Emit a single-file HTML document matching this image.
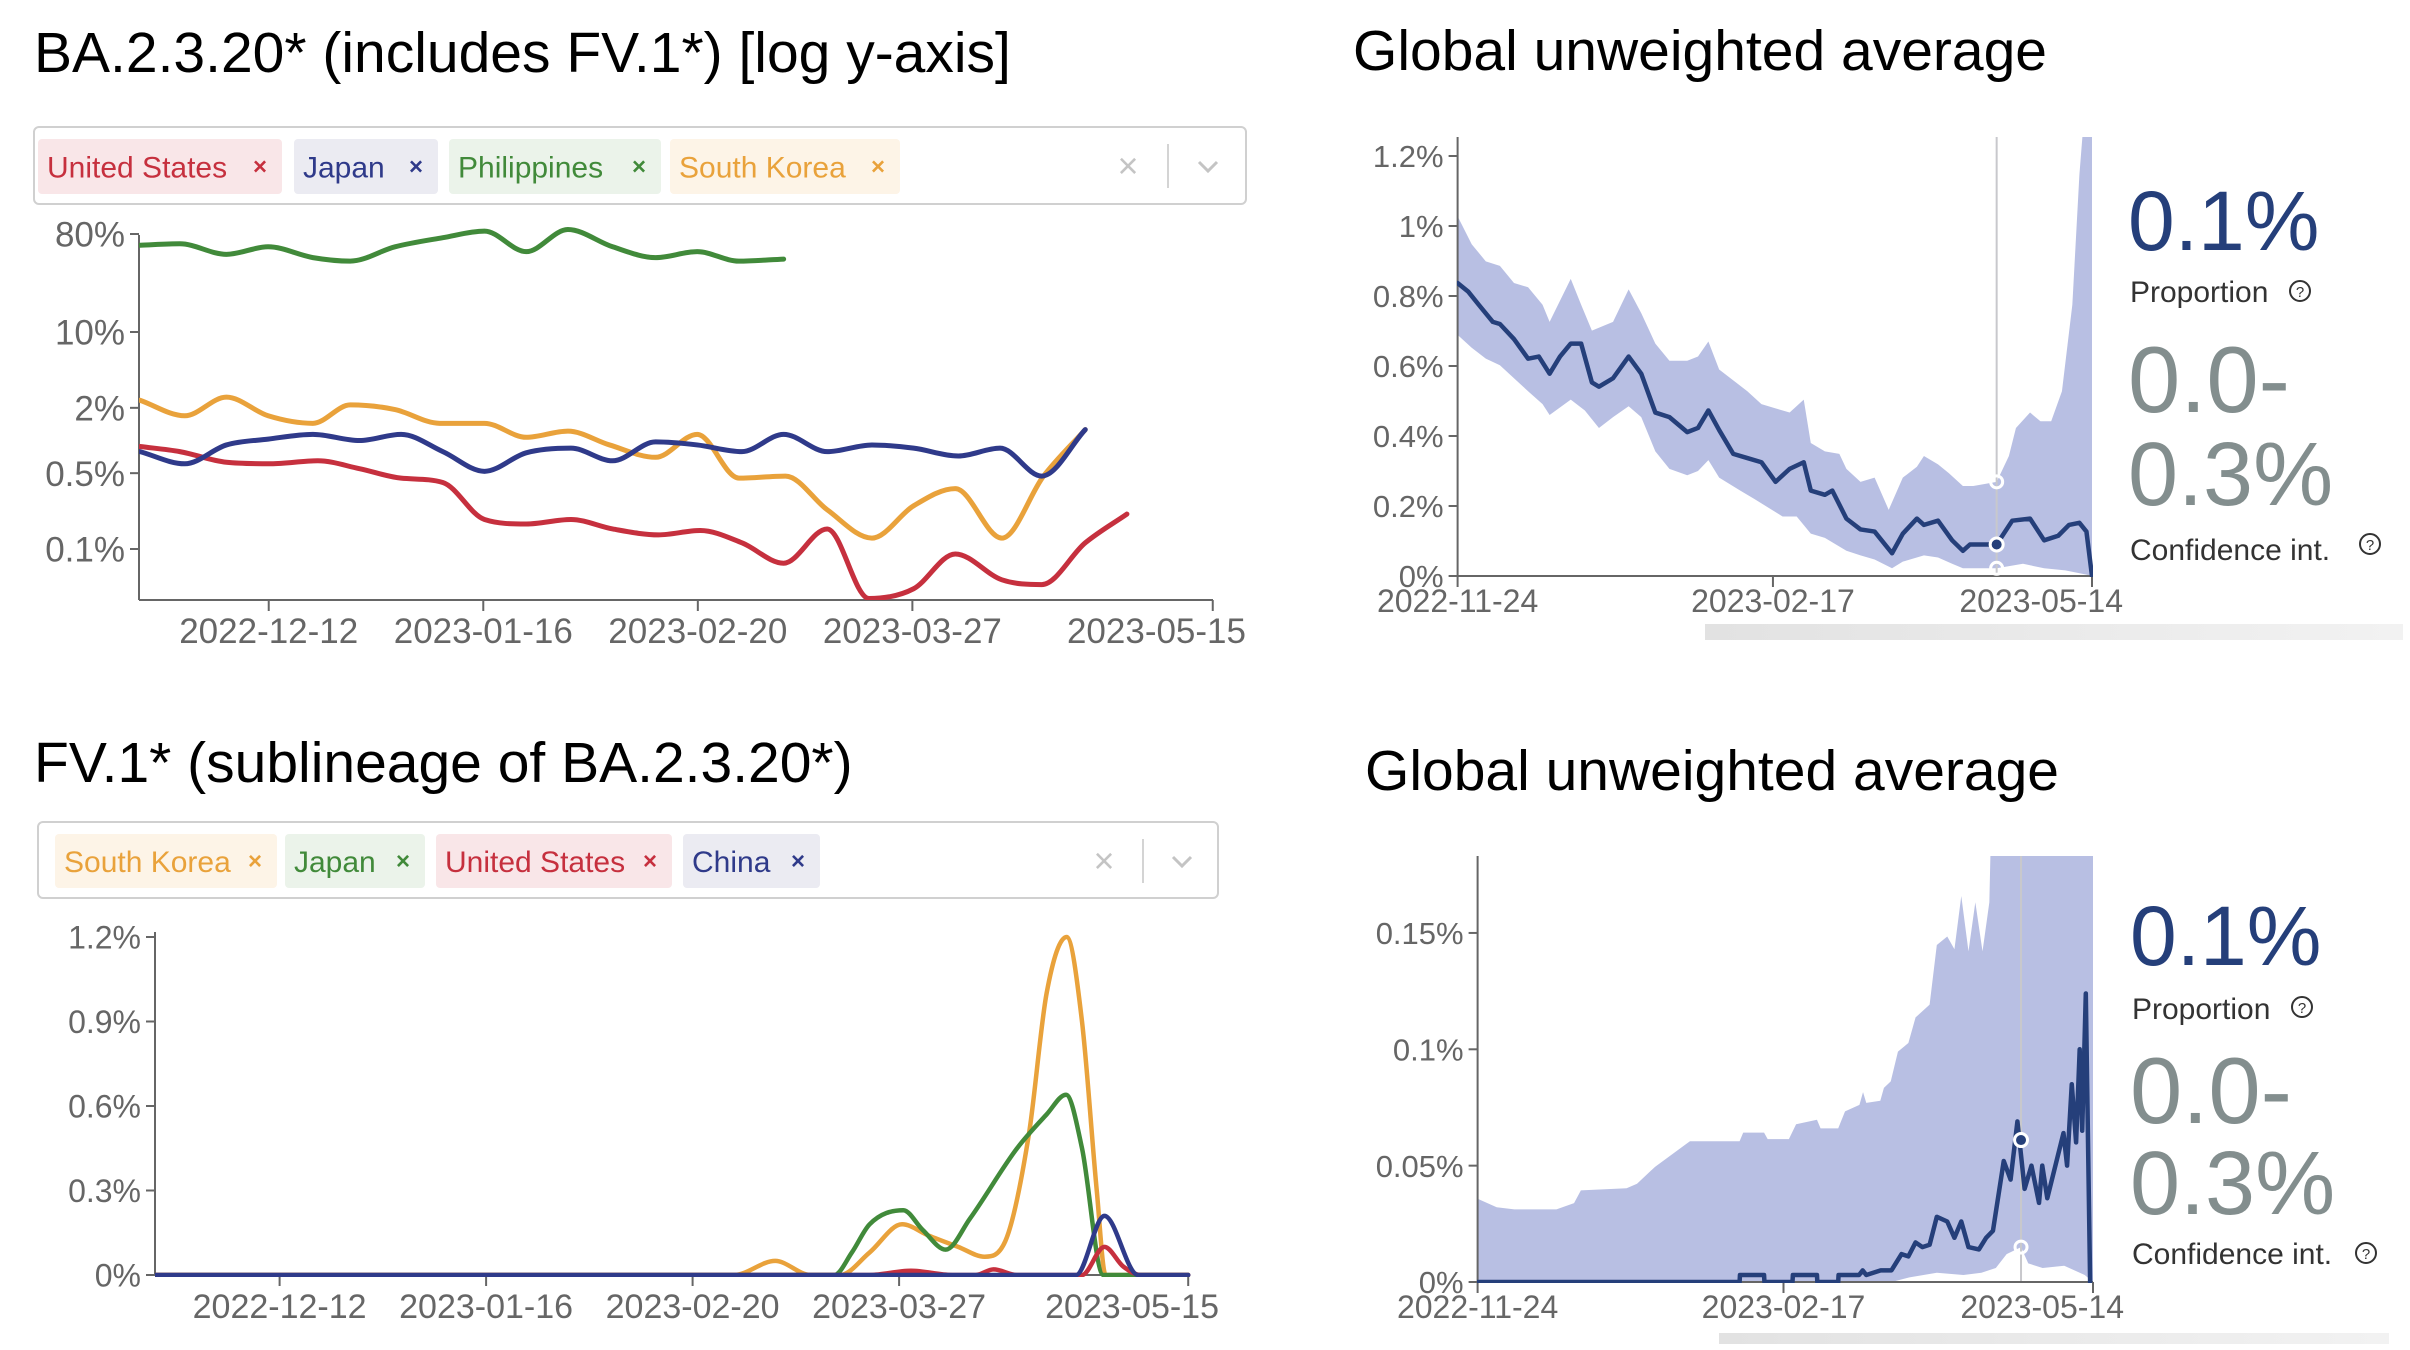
<!DOCTYPE html>
<html><head><meta charset="utf-8"><style>
html,body{margin:0;padding:0;background:#fff;}
svg{display:block;font-family:"Liberation Sans",Arial,sans-serif;}
</style></head><body>
<svg id="root" width="2410" height="1350" viewBox="0 0 2410 1350" xmlns="http://www.w3.org/2000/svg">
<defs>
<clipPath id="c1"><rect x="139" y="225" width="1090" height="375"/></clipPath>
<clipPath id="c2"><rect x="155" y="915" width="1045" height="362"/></clipPath>
<clipPath id="c3"><rect x="1457" y="137" width="636" height="440"/></clipPath>
<clipPath id="c4"><rect x="1477" y="856" width="617" height="427"/></clipPath>
<linearGradient id="sb" x1="0" x2="1"><stop offset="0" stop-color="#e2e2e2"/><stop offset="1" stop-color="#f2f2f2"/></linearGradient>
</defs>

<text x="34" y="72" font-size="57" fill="#000">BA.2.3.20* (includes FV.1*) [log y-axis]</text>
<text x="34" y="782" font-size="57" fill="#000">FV.1* (sublineage of BA.2.3.20*)</text>
<text x="1353" y="70" font-size="57" fill="#000">Global unweighted average</text>
<text x="1365" y="790" font-size="57" fill="#000">Global unweighted average</text>

<rect x="34" y="127" width="1212" height="77" rx="5" fill="#fff" stroke="#d0d0d0" stroke-width="2"/>
<rect x="38" y="822" width="1180" height="76" rx="5" fill="#fff" stroke="#d0d0d0" stroke-width="2"/>

<g id="tags"></g>
<g id="g1"></g><g id="g2"></g><g id="g3"></g><g id="g4"></g>

<rect x="1705" y="624" width="698" height="16" fill="url(#sb)"/>
<rect x="1719" y="1333" width="670" height="11" fill="url(#sb)"/>

<text x="2128" y="250" font-size="84" fill="#253f7a">0.1%</text>
<text x="2130" y="302" font-size="30" fill="#333">Proportion</text>
<g><circle cx="2300" cy="291" r="10" fill="none" stroke="#333" stroke-width="2"/><text x="2300" y="297" font-size="15" text-anchor="middle" fill="#333">?</text></g>
<text x="2128" y="412" font-size="94" fill="#838e8e">0.0-</text>
<text x="2128" y="505" font-size="90" fill="#838e8e">0.3%</text>
<text x="2130" y="560" font-size="30" fill="#333">Confidence int.</text>
<g><circle cx="2370" cy="544" r="10" fill="none" stroke="#333" stroke-width="2"/><text x="2370" y="550" font-size="15" text-anchor="middle" fill="#333">?</text></g>

<text x="2130" y="965" font-size="84" fill="#253f7a">0.1%</text>
<text x="2132" y="1019" font-size="30" fill="#333">Proportion</text>
<g><circle cx="2302" cy="1007" r="10" fill="none" stroke="#333" stroke-width="2"/><text x="2302" y="1013" font-size="15" text-anchor="middle" fill="#333">?</text></g>
<text x="2130" y="1123" font-size="94" fill="#838e8e">0.0-</text>
<text x="2130" y="1214" font-size="90" fill="#838e8e">0.3%</text>
<text x="2132" y="1264" font-size="30" fill="#333">Confidence int.</text>
<g><circle cx="2366" cy="1253" r="10" fill="none" stroke="#333" stroke-width="2"/><text x="2366" y="1259" font-size="15" text-anchor="middle" fill="#333">?</text></g>
</svg>
<script>
// ===== Chart 1: BA.2.3.20* log scale (day offsets from 2022-11-21) =====
const c1TickLabels = ["80%","10%","2%","0.5%","0.1%"];
const c1TickValues = [80,10,2,0.5,0.1];
const xTickLabels = ["2022-12-12","2023-01-16","2023-02-20","2023-03-27","2023-05-15"];
const xTickDays = [21,56,91,126,175];
const phDays = [0,6.5,14.1,20.9,28.2,34.3,41.6,49.4,56.2,63,69.8,77.1,84.1,90.9,97.7,105];
const phVals = [63,65,52,61,48.5,45,61,74,85,55,88,61,48.5,55,45,47];
const krDays = [0,7.3,14.1,20.9,28.2,34.3,41.6,48.9,56.2,63,69.8,76.6,84.1,90.9,97.7,105.3,112.1,119.4,126.2,133,140.6,147.4,154.2];
const krVals = [2.35,1.69,2.51,1.69,1.44,2.13,1.93,1.44,1.44,1.07,1.22,0.91,0.70,1.14,0.45,0.47,0.23,0.126,0.25,0.36,0.126,0.47,1.26];
const jpDays = [0,7.3,14.1,20.9,28.2,35.8,42.6,49.4,56.2,63,70.3,77.1,84.1,90.9,98.2,105,112.1,119.4,126.2,133.5,140.3,147.1,154.2];
const jpVals = [0.79,0.61,0.91,1.03,1.14,1.0,1.14,0.79,0.52,0.77,0.85,0.65,0.97,0.91,0.79,1.14,0.79,0.91,0.85,0.72,0.85,0.47,1.26];
const usDays = [0,6.5,14.1,21.4,29,35.8,42.6,49.4,56.2,63,70.3,77.1,84.6,91.4,98.2,105,112.1,118.9,126.2,133,140.6,147.1,154.2,161];
const usVals = [0.88,0.79,0.63,0.61,0.65,0.55,0.45,0.41,0.187,0.17,0.187,0.153,0.135,0.148,0.114,0.074,0.153,0.035,0.043,0.09,0.052,0.047,0.114,0.21];

// ===== Chart 2: FV.1* linear (% , day offsets from 2022-11-21) =====
const c2TickLabels = ["1.2%","0.9%","0.6%","0.3%","0%"];
const c2TickValues = [1.2,0.9,0.6,0.3,0];
const fkrDays = [0,98,105,111,116,121,126.5,131,136,140.5,144,148,151,154.4,157,159.5,161,175];
const fkrVals = [0,0,0.05,0,0,0.08,0.18,0.14,0.1,0.065,0.12,0.5,1.0,1.2,0.9,0.3,0,0];
const fjpDays = [0,115,118,121,126.7,130,133.9,138,146,151,154.3,157,160.6,175];
const fjpVals = [0,0,0.08,0.18,0.23,0.16,0.09,0.2,0.45,0.57,0.64,0.45,0,0];
const fusDays = [0,121,128,135,139,142,146,157,160.8,164,167,175];
const fusVals = [0,0,0.015,0,0,0.02,0,0,0.1,0.03,0,0];
const fcnDays = [0,156,160.8,166.5,175];
const fcnVals = [0,0,0.21,0,0];

// ===== Chart 3: global average top (day offsets from 2022-11-24) =====
const g1TickLabels = ["1.2%","1%","0.8%","0.6%","0.4%","0.2%","0%"];
const g1TickValues = [1.2,1,0.8,0.6,0.4,0.2,0];
const gxTickLabels = ["2022-11-24","2023-02-17","2023-05-14"];
const gxTickDays = [0,85,171];
const g1MeanDays = [0,2.9,5.7,9.5,11.4,15.2,19,21.9,24.8,27.6,30.5,33.3,36.2,38.1,41.9,46.1,49.5,53.3,57.1,61.9,64.8,67.6,70.5,74.3,78.1,81.9,85.7,89.5,93.3,95.2,99,101,104.8,108.6,112.4,117.1,120,123.8,125.7,129.5,133.3,136.2,138.1,145.3,149.5,154.3,158.1,161.9,164.8,167.6,169.5,171];
const g1MeanVals = [.837,.812,.775,.726,.72,.677,.621,.627,.578,.627,.664,.664,.553,.541,.565,.627,.578,.467,.454,.411,.423,.473,.417,.349,.337,.325,.269,.306,.325,.244,.232,.244,.164,.133,.127,.065,.121,.164,.146,.158,.102,.072,.09,.09,.158,.164,.102,.115,.146,.152,.127,0];
const g1UpDays = [0,3.8,7.6,11.4,15.2,19,22.9,24.8,30.5,33.3,36.2,41.9,46.1,49.5,53.3,57.1,61.9,64.8,67.6,70.5,74.3,78.1,81.9,85.7,89.5,93.3,95.2,99,102.9,104.8,108.6,112.4,116.2,120,123.8,125.7,129.5,132.4,136.2,139,145.3,148.6,150.5,154.3,157.1,160,162.9,165.7,167.6,169.5,171];
const g1UpVals = [1.028,.948,.899,.886,.837,.825,.775,.726,.849,.775,.701,.726,.819,.751,.664,.615,.615,.627,.67,.59,.559,.528,.491,.479,.467,.504,.38,.356,.349,.306,.269,.281,.189,.281,.312,.343,.319,.294,.257,.257,.269,.343,.423,.467,.442,.442,.528,.775,1.146,1.4,1.5];
const g1LoDays = [0,3.8,7.6,11.4,15.2,19,22.9,24.8,30.5,34.3,38.1,41.9,46.1,49.5,53.3,57.1,61.9,64.8,67.6,70.5,76.2,80,83.8,87.6,91.4,95.2,99,104.8,108.6,112.4,117.1,120,125.7,129.5,133.3,136.2,145.3,152.4,158.1,163.8,169.5,171];
const g1LoVals = [.689,.652,.621,.602,.565,.528,.491,.46,.504,.473,.423,.454,.485,.454,.356,.306,.288,.3,.331,.281,.244,.22,.195,.17,.17,.121,.109,.072,.059,.047,.022,.041,.059,.053,.035,.022,.022,.035,.022,.016,.004,0];
const g1Marker = [145.3, 0.09, 0.269, 0.022];

// ===== Chart 4: global average bottom =====
const g2TickLabels = ["0.15%","0.1%","0.05%","0%"];
const g2TickValues = [0.15,0.1,0.05,0];
const g2UpDays = [0,5.3,10.2,21.9,26.8,28.7,41.4,44.3,49.3,59,66.9,72.8,73.8,79.6,80.6,86.5,88.5,94.3,95.3,100.2,102.1,106.1,107.1,108,111.9,112.9,114.8,116.8,119.7,121.7,125.6,127.6,130.5,132.5,134.4,136.4,138.3,140.3,142.2,144.2,171];
const g2UpVals = [.0358,.0321,.0312,.0312,.0339,.0394,.0403,.0422,.0495,.0605,.0605,.0605,.0642,.0642,.0614,.0614,.0678,.0697,.066,.066,.0733,.0761,.0816,.077,.0779,.0834,.0862,.099,.1027,.1137,.1192,.1448,.1485,.143,.1659,.1421,.1632,.1421,.1632,.3,.3];
const g2LoDays = [0,115,120,127.6,135,140,144,147,151,153,157,163,168.7,171];
const g2LoVals = [0,0,.002,.004,.003,.004,.006,.012,.015,.008,.006,.007,.003,0];
const g2MeanDays = [0,72.8,72.9,79.6,79.7,87.5,87.6,94.3,94.4,100.2,100.3,106,107,108,112,115,117.8,119.7,121.7,123.6,125.6,127.6,130.5,132.5,134.4,136.4,139.3,141.3,143.2,146.2,148.1,150,152,153.9,156,156.9,158.3,162.8,163.8,165.1,166.3,167.3,168,169,170.2];
const g2MeanVals = [0,0,.003,.003,0,0,.003,.003,0,0,.003,.003,.005,.003,.005,.005,.012,.011,.017,.015,.016,.028,.026,.019,.026,.015,.014,.019,.022,.052,.044,.069,.04,.05,.034,.05,.036,.064,.05,.085,.06,.1,.065,.124,0];
const g2Marker = [151, 0.061, 0.015];

const NS="http://www.w3.org/2000/svg";
function mk(parent,tag,attrs){const e=document.createElementNS(NS,tag);for(const k in attrs)e.setAttribute(k,attrs[k]);parent.appendChild(e);return e;}
function mono(pts){
  const n=pts.length; if(n<2) return "";
  const m=[],t=[];
  for(let i=0;i<n-1;i++) m.push((pts[i+1][1]-pts[i][1])/(pts[i+1][0]-pts[i][0]));
  t[0]=m[0]; t[n-1]=m[n-2];
  for(let i=1;i<n-1;i++) t[i]=(m[i-1]*m[i]<=0)?0:(m[i-1]+m[i])/2;
  for(let i=0;i<n-1;i++){
    if(m[i]===0){t[i]=0;t[i+1]=0;continue;}
    const a=t[i]/m[i],b=t[i+1]/m[i],s=a*a+b*b;
    if(s>9){const tau=3/Math.sqrt(s);t[i]=tau*a*m[i];t[i+1]=tau*b*m[i];}
  }
  let d="M"+pts[0][0]+","+pts[0][1];
  for(let i=0;i<n-1;i++){
    const dx=(pts[i+1][0]-pts[i][0])/3;
    d+="C"+(pts[i][0]+dx)+","+(pts[i][1]+t[i]*dx)+","+(pts[i+1][0]-dx)+","+(pts[i+1][1]-t[i+1]*dx)+","+pts[i+1][0]+","+pts[i+1][1];
  }
  return d;
}
function lin(pts){return "M"+pts.map(p=>p[0]+","+p[1]).join("L");}
function zip(ds,vs,fx,fy){return ds.map((d,i)=>[fx(d),fy(vs[i])]);}
const AX="#666", LBL="#666";

function axes(g,x0,x1,y0,yTop,yTicks,yLabels,fy,xTicks,xLabels,fx,xLabelY,name,yfs,xfs,lastEnd){
  let e;
  e=mk(g,"line",{x1:x0,y1:yTop,x2:x0,y2:y0,stroke:AX,"stroke-width":2});
  
  
  e=mk(g,"line",{x1:x0,y1:y0,x2:x1,y2:y0,stroke:AX,"stroke-width":2});
  
  
  yTicks.forEach((v,i)=>{
    const y=fy(v);
    mk(g,"line",{x1:x0-9,y1:y,x2:x0,y2:y,stroke:AX,"stroke-width":2});
    e=mk(g,"text",{x:x0-14,y:y+yfs*0.36,"font-size":yfs,"text-anchor":"end",fill:LBL});
    e.textContent=yLabels[i];
    
    
  });
  xTicks.forEach((d,i)=>{
    const x=fx(d);
    mk(g,"line",{x1:x,y1:y0,x2:x,y2:y0+11,stroke:AX,"stroke-width":2});
    const last=(i===xTicks.length-1);
    e=mk(g,"text",{x:last?lastEnd:x,y:xLabelY,"font-size":xfs,"text-anchor":last?"end":"middle",fill:LBL});
    e.textContent=xLabels[i];
    
    
  });
}
function series(g,pts,color,w,clip,name,smooth){
  const e=mk(g,"path",{d:smooth?mono(pts):lin(pts),fill:"none",stroke:color,"stroke-width":w,"stroke-linejoin":"round","stroke-linecap":"round","clip-path":"url(#"+clip+")"});
  
  
}
const RED="#c6303e",NAVY="#2f3a8a",GREEN="#418a3a",ORANGE="#e9a23b";

// chart 1
(function(){
  const g=document.getElementById("g1");
  const fx=d=>140+d*6.13;
  const fy=v=>332-(Math.log10(v)-1)*108.5;
  axes(g,139,1213,600,235,c1TickValues,c1TickLabels,fy,xTickDays,xTickLabels,fx,643,"ba2320",35,35,1246);
  series(g,zip(phDays,phVals,fx,fy),GREEN,5,"c1","line-philippines",true);
  series(g,zip(usDays,usVals,fx,fy),RED,5,"c1","line-united-states",true);
  series(g,zip(krDays,krVals,fx,fy),ORANGE,5,"c1","line-south-korea",true);
  series(g,zip(jpDays,jpVals,fx,fy),NAVY,5,"c1","line-japan",true);
})();
// chart 2
(function(){
  const g=document.getElementById("g2");
  const fx=d=>155.7+d*5.9;
  const fy=v=>1275-v/1.2*338;
  axes(g,155,1188,1275,932,c2TickValues,c2TickLabels,fy,xTickDays,xTickLabels,fx,1318,"fv1",32,34,1219);
  series(g,zip(fkrDays,fkrVals,fx,fy),ORANGE,4.5,"c2","line-south-korea-fv1",true);
  series(g,zip(fjpDays,fjpVals,fx,fy),GREEN,4.5,"c2","line-japan-fv1",true);
  series(g,zip(fusDays,fusVals,fx,fy),RED,4.5,"c2","line-united-states-fv1",true);
  series(g,zip(fcnDays,fcnVals,fx,fy),NAVY,4.5,"c2","line-china-fv1",true);
})();
// global panels
function globalPanel(gid,x0,x1,y0,yTop,perPct,tv,tl,up,upv,lo,lov,md,mv,mk4,clip,name){
  const g=document.getElementById(gid);
  const fx=d=>x0+d*(x1-x0)/171;
  const fy=v=>y0-v*perPct;
  const top=zip(up,upv,fx,fy), bot=zip(lo,lov,fx,fy).reverse();
  let e=mk(g,"path",{d:lin(top)+"L"+bot.map(p=>p[0]+","+p[1]).join("L")+"Z",fill:"#b8bfe3","clip-path":"url(#"+clip+")"});
  
  
  e=mk(g,"line",{x1:fx(mk4[0]),y1:yTop,x2:fx(mk4[0]),y2:y0,stroke:"#c8c8cc","stroke-width":2});
  
  
  axes(g,x0,x1,y0,yTop,tv,tl,fy,gxTickDays,gxTickLabels,fx,y0+36,name,31,32,x1+31);
  series(g,zip(md,mv,fx,fy),"#253f7a",4.5,clip,name+'-mean-line',false);
  for(let i=2;i<mk4.length;i++){
    e=mk(g,"circle",{cx:fx(mk4[0]),cy:fy(mk4[i]),r:6,fill:"none",stroke:"#fff","stroke-width":3});
    
    
  }
  e=mk(g,"circle",{cx:fx(mk4[0]),cy:fy(mk4[1]),r:6.5,fill:"#253f7a",stroke:"#fff","stroke-width":3});
  
  
}
globalPanel("g3",1457.6,2092,576,137,350,g1TickValues,g1TickLabels,g1UpDays,g1UpVals,g1LoDays,g1LoVals,g1MeanDays,g1MeanVals,g1Marker,"c3","global-top");
globalPanel("g4",1477.6,2093,1282,856,2327,g2TickValues,g2TickLabels,g2UpDays,g2UpVals,g2LoDays,g2LoVals,g2MeanDays,g2MeanVals,g2Marker,"c4","global-bottom");

// tags
(function(){
  const g=document.getElementById("tags");
  const tags=[
    ["United States",38,282,139,194,"#c6303e","#f9e6e8"],
    ["Japan",294,438,139,194,"#2f3a8a","#ebebf2"],
    ["Philippines",449,661,139,194,"#418a3a","#ebf3ea"],
    ["South Korea",670,900,139,194,"#e9a23b","#fdf4e7"],
    ["South Korea",55,277,834,888,"#e9a23b","#fdf4e7"],
    ["Japan",285,425,834,888,"#418a3a","#ebf3ea"],
    ["United States",436,672,834,888,"#c6303e","#f9e6e8"],
    ["China",683,820,834,888,"#2f3a8a","#ebebf2"]
  ];
  tags.forEach(t=>{
    const grp=mk(g,"g",{});
    
    
    mk(grp,"rect",{x:t[1],y:t[3],width:t[2]-t[1],height:t[4]-t[3],rx:4,fill:t[6]});
    const tx=mk(grp,"text",{x:t[1]+9,y:(t[3]+t[4])/2+11,"font-size":30,fill:t[5]});
    tx.textContent=t[0];
    const x=mk(grp,"text",{x:t[2]-22,y:(t[3]+t[4])/2+8,"font-size":24,"font-weight":"bold","text-anchor":"middle",fill:t[5]});
    x.textContent="×";
    
    
  });
  [[1128,1168,1208,166],[1104,1143,1182,861]].forEach(c=>{
    let e=mk(g,"text",{x:c[0],y:c[3]+12,"font-size":36,"text-anchor":"middle",fill:"#c4c4c4"});
    e.textContent="×";
    
    
    mk(g,"line",{x1:c[1],y1:c[3]-22,x2:c[1],y2:c[3]+22,stroke:"#d4d4d4","stroke-width":2});
    e=mk(g,"path",{d:"M"+(c[2]-9)+","+(c[3]-4)+"L"+c[2]+","+(c[3]+5)+"L"+(c[2]+9)+","+(c[3]-4),fill:"none",stroke:"#c4c4c4","stroke-width":3});
    
    
  });
})();
</script>
</body></html>
